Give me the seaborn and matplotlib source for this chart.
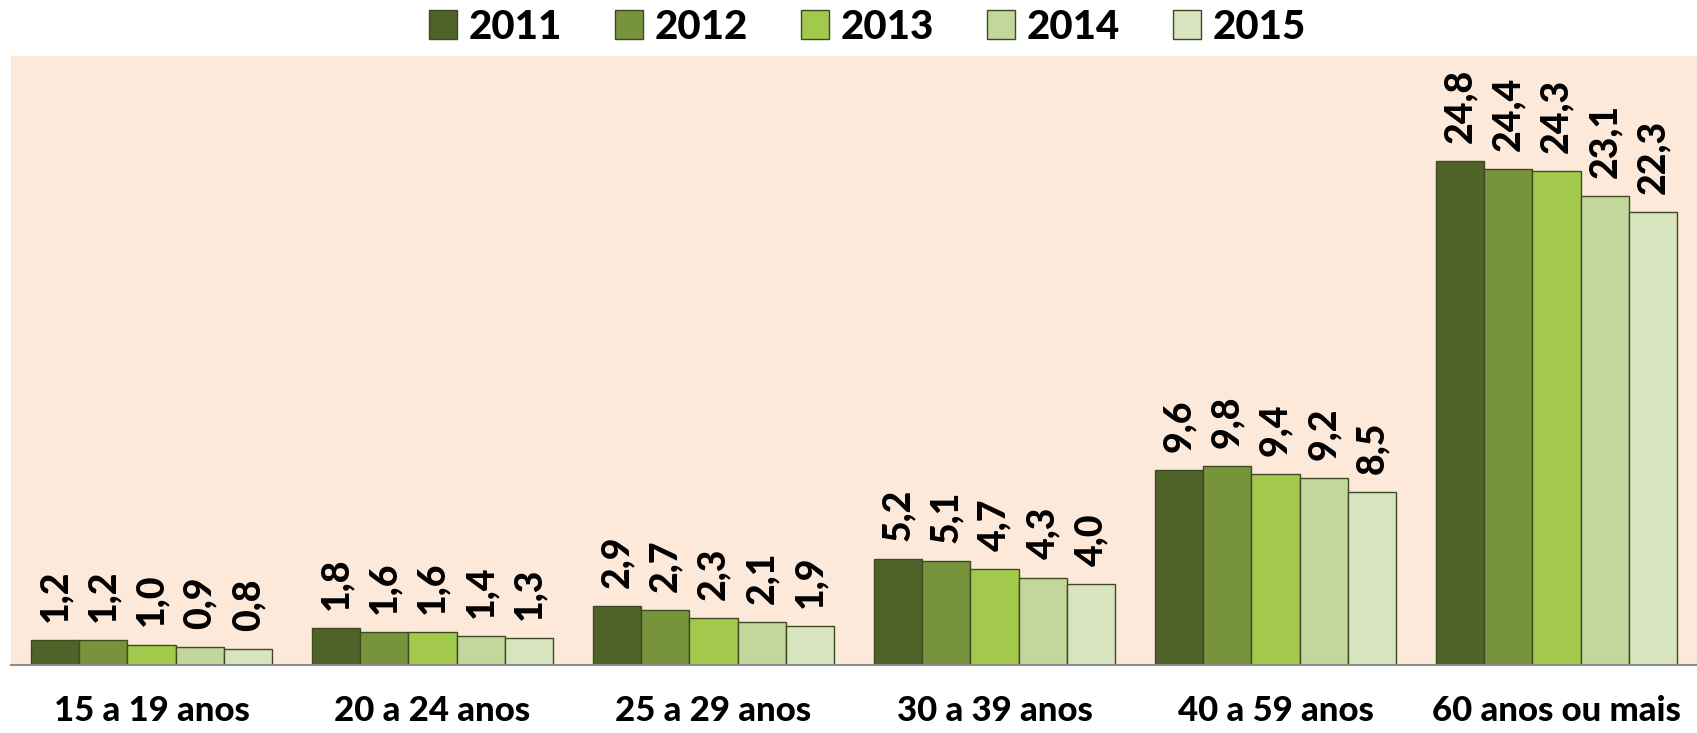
import matplotlib.pyplot as plt
import pandas as pd
import seaborn as sns

# Data
faixas = ['15 a 19 anos', '20 a 24 anos', '25 a 29 anos',
          '30 a 39 anos', '40 a 59 anos', '60 anos ou mais']
anos = ['2011', '2012', '2013', '2014', '2015']
v2011 = [1.2, 1.8, 2.9, 5.2, 9.6, 24.8]
v2012 = [1.2, 1.6, 2.7, 5.1, 9.8, 24.4]
v2013 = [1.0, 1.6, 2.3, 4.7, 9.4, 24.3]
v2014 = [0.9, 1.4, 2.1, 4.3, 9.2, 23.1]
v2015 = [0.8, 1.3, 1.9, 4.0, 8.5, 22.3]
cores = ['#4f6228', '#77933c', '#a2c94b', '#c3d69b', '#d7e4bd']

series = [v2011, v2012, v2013, v2014, v2015]
df = pd.DataFrame({
    'faixa': faixas * len(anos),
    'ano': [a for a in anos for _ in faixas],
    'valor': [v for s in series for v in s],
})

sns.set_style('white')
plt.rcParams['font.family'] = ['Lato', 'DejaVu Sans']
plt.rcParams['font.weight'] = 'black'
plt.rcParams['text.color'] = 'black'
plt.rcParams['xtick.color'] = 'black'

fig = plt.figure(figsize=(16.97, 7.33), dpi=100)
ax = fig.add_axes([0.0065, 0.093, 0.9935, 0.831])
ax.set_facecolor('#fde9d9')

sns.barplot(data=df, x='faixa', y='valor', hue='ano', order=faixas,
            hue_order=anos, palette=cores, width=0.86, gap=0,
            edgecolor='#3d4a22', linewidth=1.0, saturation=1, ax=ax)

# data labels, rotated, Portuguese decimal comma
for cont in ax.containers:
    labels = [f'{b.get_height():.1f}'.replace('.', ',') for b in cont]
    ax.bar_label(cont, labels=labels, rotation=90, padding=13,
                 fontsize=27, fontweight='black', color='black')

ax.set_ylim(0, 30)
ax.set_xlim(-0.5, len(faixas) - 0.5)
ax.set_yticks([])
ax.set_xlabel('')
ax.set_ylabel('')
ax.set_xticks(range(len(faixas)))
ax.set_xticklabels(faixas, fontsize=25, fontweight='black')
ax.tick_params(axis='x', which='major', length=0, pad=22)
ax.set_xticks([i - 0.5 for i in range(len(faixas) + 1)], minor=True)
ax.tick_params(axis='x', which='minor', length=12, width=1.5, color='#8c8c8c')

for s in ['top', 'right', 'left']:
    ax.spines[s].set_visible(False)
ax.spines['bottom'].set_color('#8c8c8c')
ax.spines['bottom'].set_linewidth(1.5)

leg = ax.legend(loc='lower center', bbox_to_anchor=(0.508, 0.99), ncol=5,
                frameon=False, fontsize=29, handlelength=0.7, handleheight=0.7,
                handletextpad=0.3, columnspacing=1.3, borderaxespad=0)
for t in leg.get_texts():
    t.set_fontweight('black')

fig.savefig('out.png', dpi=100)
